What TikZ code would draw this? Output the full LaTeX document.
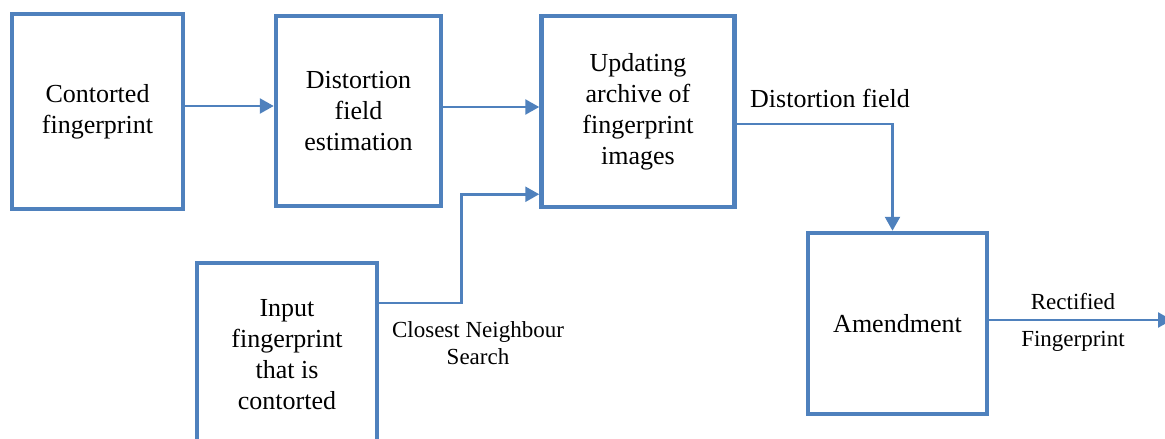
\documentclass[tikz,border=0pt]{standalone}
\usepackage{fontspec}
\setmainfont{Liberation Serif}
\usetikzlibrary{arrows.meta}
\definecolor{boxblue}{HTML}{4F81BD}
\begin{document}
\begin{tikzpicture}[x=1pt, y=-1pt,
    block/.style={draw=boxblue, line width=4.5pt, align=center, inner sep=0pt,
        font=\fontsize{26}{31}\selectfont},
    flow/.style={draw=boxblue, line width=2.5pt, -{Triangle[length=14pt,width=15pt]}},
    lbl/.style={font=\fontsize{23}{27}\selectfont, align=center, inner sep=0pt}]
    \useasboundingbox (0,0) rectangle (1165,439);
    \clip (0,0) rectangle (1165,439);
    \node[block, minimum width=171pt, minimum height=195pt] (cf) at (97.5,111.5) {Contorted\\fingerprint};
    \node[block, minimum width=165pt, minimum height=190pt] (dfe) at (358.5,111) {Distortion\\field\\estimation};
    \node[block, minimum width=193pt, minimum height=191pt] (arc) at (638,111.5) {Updating\\archive of\\fingerprint\\images};
    \node[block, minimum width=180pt, minimum height=184pt] (inp) at (287,355) {Input\\fingerprint\\that is\\contorted};
    \node[block, minimum width=179pt, minimum height=181pt] (amd) at (897.5,323.5) {Amendment};
    \coordinate (out) at (1172,320);
    \draw[flow] ([yshift=5.5pt]cf.east) -- ([yshift=5.5pt]cf.east -| dfe.west);
    \draw[flow] ([yshift=4pt]dfe.east) -- ([yshift=4pt]dfe.east -| arc.west);
    \draw[flow] ([yshift=-42pt]inp.north east) -- ++(82,0) |- ([yshift=15pt]arc.south west);
    \draw[flow] ([yshift=-12.5pt]arc.east) -| ([xshift=-5pt]amd.north);
    \draw[flow] ([yshift=3.5pt]amd.east) -- (out);
    \node[font=\fontsize{26}{31}\selectfont] (dlbl) at (830,98) {Distortion field};
    \node[lbl] (cns) at (478,343) {Closest Neighbour\\Search};
    \node[lbl] (rlbl) at (1073,302) {Rectified};
    \node[lbl] (flbl) at (1073,341) {Fingerprint};
\end{tikzpicture}
\end{document}
